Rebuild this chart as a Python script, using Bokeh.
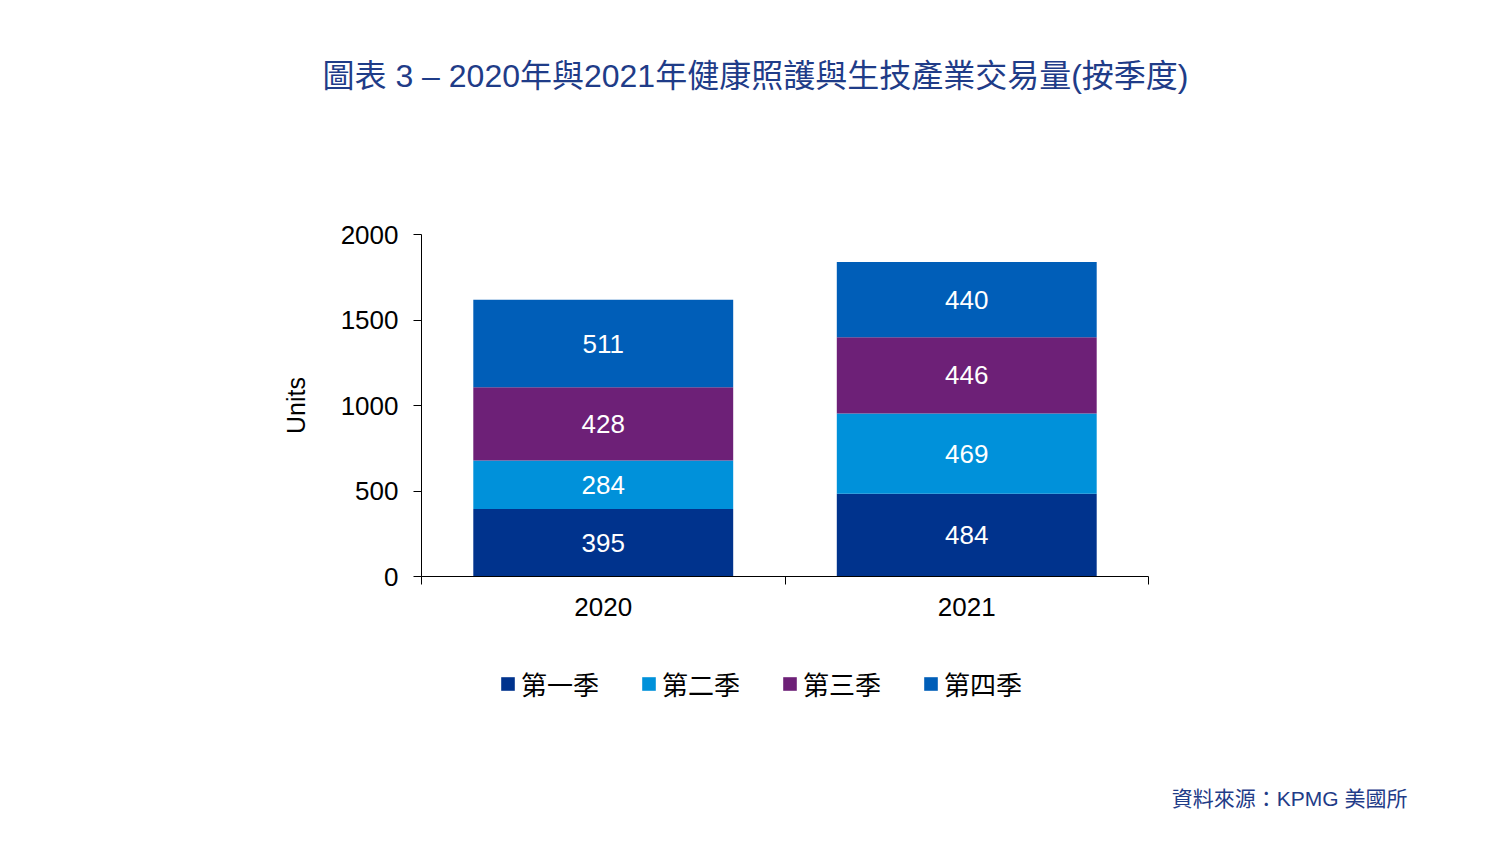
import numpy as np
from bokeh.plotting import figure
from bokeh.layouts import column
from bokeh.models import (ColumnDataSource, Range1d, FixedTicker, LabelSet, Label,
                          Legend, LegendItem)
from bokeh.core.properties import value
from bokeh.embed import file_html
from bokeh.resources import INLINE

# ---- data ----
years = ["2020", "2021"]
quarters = ["第一季", "第二季", "第三季", "第四季"]
q1 = [395, 484]
q2 = [284, 469]
q3 = [428, 446]
q4 = [511, 440]
colors = ["#00338D", "#0091DA", "#6D2077", "#005EB8"]
y_ticks = [0, 500, 1000, 1500, 2000]
title_text = "圖表 3 – 2020年與2021年健康照護與生技產業交易量(按季度)"
source_text = "資料來源：KPMG 美國所"

LATIN = "Liberation Sans"
CJK = "'Liberation Sans', 'Noto Sans CJK TC'"
NAVY = "#1F3C88"
W = 1484

xs = np.arange(len(years)) + 0.5
keys = ["q1", "q2", "q3", "q4"]
source = ColumnDataSource(dict(x=xs, q1=q1, q2=q2, q3=q3, q4=q4))


def strip(height):
    f = figure(width=W, height=height, output_backend="svg", toolbar_location=None,
               x_range=Range1d(0, W), y_range=Range1d(0, height),
               min_border_left=0, min_border_right=0, min_border_top=0, min_border_bottom=0)
    f.axis.visible = False
    f.grid.visible = False
    f.outline_line_color = None
    f.frame_align = False
    return f


# ---- title strip ----
H0 = 120
p0 = strip(H0)
p0.add_layout(Label(x=755, y=H0 - 75, text=title_text, text_font=CJK, text_font_size="32px",
                    text_color=NAVY, text_align="center", text_baseline="middle"))

# ---- main chart ----
p = figure(width=W, height=520, output_backend="svg", toolbar_location=None,
           x_range=Range1d(0, 2), y_range=Range1d(0, 2000),
           min_border_left=421, min_border_right=336, min_border_top=114, min_border_bottom=64)
p.frame_align = False
p.outline_line_color = None
p.xgrid.grid_line_color = None
p.ygrid.grid_line_color = None

p.vbar_stack(keys, x="x", width=0.715, source=source, color=colors, line_color=None)

vals = np.array([q1, q2, q3, q4], dtype=float)
cum = np.cumsum(vals, axis=0)
mids = cum - vals / 2
lx, ly, lt = [], [], []
for i in range(vals.shape[0]):
    for j in range(vals.shape[1]):
        lx.append(xs[j]); ly.append(mids[i, j]); lt.append(str(int(vals[i, j])))
lsrc = ColumnDataSource(dict(x=lx, y=ly, t=lt))
p.add_layout(LabelSet(x="x", y="y", text="t", source=lsrc, text_color="white",
                      text_font=value(LATIN), text_font_size="26px",
                      text_align="center", text_baseline="middle"))

p.yaxis.ticker = FixedTicker(ticks=y_ticks)
p.yaxis.axis_label = "Units"
p.yaxis.axis_label_text_font = LATIN
p.yaxis.axis_label_text_font_size = "25px"
p.yaxis.axis_label_text_font_style = "normal"
p.yaxis.axis_label_text_color = "black"
p.yaxis.axis_label_standoff = 28
p.yaxis.major_label_text_font = LATIN
p.yaxis.major_label_text_font_size = "26px"
p.yaxis.major_label_text_color = "black"
p.yaxis.major_label_standoff = 15
p.yaxis.major_tick_out = 8
p.yaxis.major_tick_in = 0
p.yaxis.minor_tick_line_color = None
p.yaxis.axis_line_color = "black"
p.yaxis.major_tick_line_color = "black"

p.xaxis.ticker = FixedTicker(ticks=list(xs), minor_ticks=[0, 1, 2])
p.xaxis.major_label_overrides = {float(x): y for x, y in zip(xs, years)}
p.xaxis.major_tick_line_color = None
p.xaxis.major_tick_out = 0
p.xaxis.major_tick_in = 0
p.xaxis.minor_tick_out = 8
p.xaxis.minor_tick_in = 0
p.xaxis.minor_tick_line_color = "black"
p.xaxis.axis_line_color = "black"
p.xaxis.major_label_text_font = LATIN
p.xaxis.major_label_text_font_size = "26px"
p.xaxis.major_label_text_color = "black"
p.xaxis.major_label_standoff = 13

# ---- legend and source strip ----
H2 = 201
p2 = strip(H2)
swatches = p2.vbar_stack(keys, x="x", width=0.715, source=source, color=colors,
                         line_color=None, visible=False)
items = [LegendItem(label=q, renderers=[r]) for q, r in zip(quarters, swatches)]
legend = Legend(items=items, orientation="horizontal", location=(499, 139),
                glyph_width=17, glyph_height=17, label_standoff=5, spacing=41,
                padding=0, margin=0, border_line_color=None, background_fill_alpha=0,
                inactive_fill_alpha=0,
                label_text_font=CJK, label_text_font_size="26px", label_text_color="black")
p2.add_layout(legend, "center")
p2.add_layout(Label(x=1407, y=H2 - 158, text=source_text,
                    text_font=CJK, text_font_size="21px", text_color=NAVY,
                    text_align="right", text_baseline="middle"))

layout = column(p0, p, p2, spacing=0)
open("out.html", "w").write(file_html(layout, INLINE))
